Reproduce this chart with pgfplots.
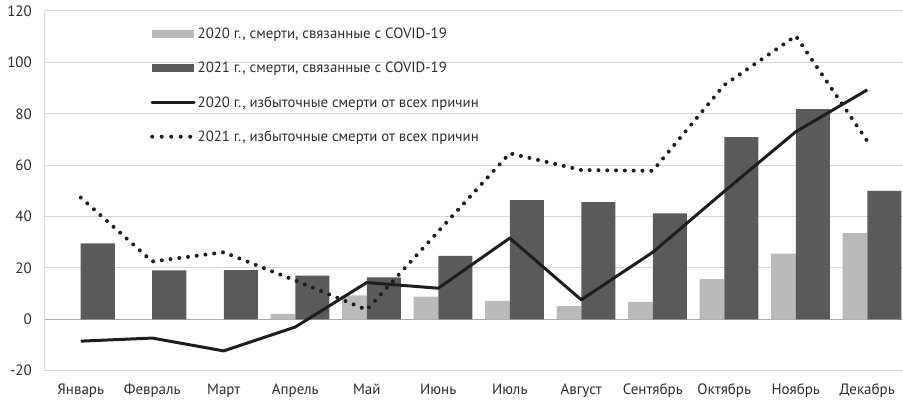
\documentclass[border=0pt]{standalone}
\usepackage{fontspec}
\setmainfont{PT Sans}
\usepackage{pgfplots}
\pgfplotsset{compat=1.18}
\usetikzlibrary{calc}
\definecolor{darkbar}{RGB}{90,90,92}
\definecolor{lightbar}{RGB}{186,186,186}
\definecolor{gridgray}{RGB}{215,215,215}
\definecolor{zerogray}{RGB}{170,170,170}
\definecolor{txt}{RGB}{45,45,45}
\definecolor{linecol}{RGB}{30,30,30}

\begin{document}
\begin{tikzpicture}
\begin{axis}[
    scale only axis,
    width=858pt, height=359.7pt,
    xmin=-0.5, xmax=11.5,
    ymin=-20, ymax=120,
    ytick={-20,0,20,40,60,80,100,120},
    xtick={0,...,11},
    xticklabels={Январь,Февраль,Март,Апрель,Май,Июнь,Июль,Август,Сентябрь,Октябрь,Ноябрь,Декабрь},
    axis lines*=left,
    axis line style={gridgray, line width=1pt},
    major tick length=0pt,
    ymajorgrids, grid style={gridgray, line width=1pt},
    extra y ticks={0}, extra y tick labels={},
    extra y tick style={grid style={zerogray, line width=1pt}},
    /pgf/number format/assume math mode=true,
    ticklabel style={font=\fontsize{15}{17}\selectfont, text=txt},
    yticklabel style={inner sep=0pt, xshift=-13pt},
    xticklabel style={inner sep=0pt, yshift=-13pt},
    legend cell align=left,
    legend style={at={(0.1224,0.958)}, anchor=north west, draw=none, fill=none,
        inner sep=0pt, row sep=18pt, font=\fontsize{14.8}{17}\selectfont, text=txt},
    clip=false,
]
\coordinate (sw) at (rel axis cs:0,0);
\coordinate (ne) at (rel axis cs:1,1);

\addplot[ybar, bar width=0.345, bar shift=-0.1725, fill=lightbar, draw=none,
    legend image code/.code={\fill[lightbar] (0pt,-4pt) rectangle (42pt,4pt);}]
  coordinates {(0,0)(1,0)(2,0)(3,2.1)(4,9.3)(5,8.8)(6,7.2)(7,5.1)(8,6.8)(9,15.6)(10,25.6)(11,33.5)};
\addlegendentry{2020 г., смерти, связанные с COVID-19}

\addplot[ybar, bar width=0.476, bar shift=0.238, fill=darkbar, draw=none,
    legend image code/.code={\fill[darkbar] (0pt,-4pt) rectangle (42pt,4pt);}]
  coordinates {(0,29.6)(1,19.0)(2,19.1)(3,17.0)(4,16.3)(5,24.7)(6,46.4)(7,45.6)(8,41.2)(9,70.9)(10,81.8)(11,50.0)};
\addlegendentry{2021 г., смерти, связанные с COVID-19}

\addplot[linecol, line width=3pt, line join=round, mark=none,
    legend image code/.code={\draw[linecol, line width=3pt, line cap=round] (0pt,0pt) -- (42pt,0pt);}]
  coordinates {(0,-8.5)(1,-7.3)(2,-12.3)(3,-3.0)(4,14.3)(5,12.1)(6,31.6)(7,7.6)(8,26.1)(9,49.8)(10,73.0)(11,89.3)};
\addlegendentry{2020 г., избыточные смерти от всех причин}

\addplot[linecol, line width=4pt, line cap=round, dash pattern=on 0pt off 8.8pt, mark=none,
    legend image code/.code={\draw[linecol, line width=4pt, line cap=round, dash pattern=on 0pt off 9.5pt] (0pt,0pt) -- (40pt,0pt);}]
  coordinates {(0,47.4)(1,22.5)(2,26.1)(3,15.1)(4,3.7)(5,34.2)(6,64.6)(7,58.1)(8,57.8)(9,91.2)(10,110.3)(11,69.4)};
\addlegendentry{2021 г., избыточные смерти от всех причин}
\end{axis}
\pgfresetboundingbox
\path[use as bounding box] ($(sw)+(-45pt,-29.3pt)$) rectangle ($(ne)+(0pt,11pt)$);
\end{tikzpicture}
\end{document}
